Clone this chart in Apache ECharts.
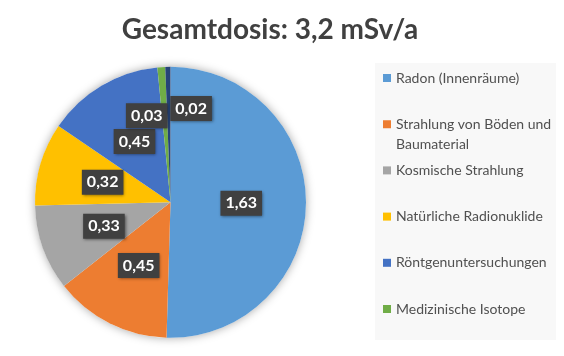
<!DOCTYPE html>
<html><head><meta charset="utf-8">
<script src="https://cdn.jsdelivr.net/npm/echarts@6/dist/echarts.min.js"></script>
<style>html,body{margin:0;padding:0;background:#fff}#c{width:564px;height:356px}</style>
</head><body><div id="c"></div>
<script>
const titleText = 'Gesamtdosis: 3,2 mSv/a';
const categories = ['Radon (Innenräume)', 'Strahlung von Böden und Baumaterial', 'Kosmische Strahlung', 'Natürliche Radionuklide', 'Röntgenuntersuchungen', 'Medizinische Isotope', 'Sonstige'];
const values = [1.63, 0.45, 0.33, 0.32, 0.45, 0.03, 0.02];
const legendNames = ['Radon (Innenräume)', 'Strahlung von Böden und\nBaumaterial', 'Kosmische Strahlung', 'Natürliche Radionuklide', 'Röntgenuntersuchungen', 'Medizinische Isotope'];
const colors = ['#5B9BD5', '#ED7D31', '#A5A5A5', '#FFC000', '#4472C4', '#70AD47', '#264478'];

const FONT = 'Lato';
const labelOffsets = {5: [-19, -16], 6: [22, -23]};
const total = values.reduce((a, b) => a + b, 0);

const data = categories.map((n, i) => {
  const d = {name: n, value: values[i], itemStyle: {color: colors[i]}};
  if (labelOffsets[i]) d.label = {offset: labelOffsets[i]};
  return d;
});

const legends = categories.slice(0, 6).map((n, i) => {
  const twoLine = legendNames[i].indexOf('\n') >= 0;
  return {
    data: [{name: n, icon: twoLine ? 'path://M0,0H8V8H0Z M0,27.9H0.01V28H0Z' : 'rect'}],
    formatter: () => legendNames[i],
    left: 383,
    top: 68 + i * 46.2,
    padding: 0,
    itemWidth: 8,
    itemHeight: twoLine ? 28 : 8,
    itemGap: 5,
    selectedMode: false,
    textStyle: {fontFamily: FONT, fontSize: 14, color: '#505050', lineHeight: 20}
  };
});

const chart = echarts.init(document.getElementById('c'), null, {renderer: 'canvas'});
chart.setOption({
  animation: false,
  backgroundColor: '#ffffff',
  title: {text: titleText, left: 265, top: 11, textAlign: 'center',
    textStyle: {fontFamily: FONT, fontWeight: 'bold', fontSize: 28, color: '#404040'}},
  graphic: [{type: 'rect', shape: {x: 375, y: 63, width: 181, height: 277}, style: {fill: '#F8F8F8'}, z: -10}],
  legend: legends,
  series: [
    {type: 'pie', center: [170.5, 202.3], radius: 135.5, silent: true, z: 1,
      label: {show: false}, labelLine: {show: false},
      data: [{name: 'bg', value: total, itemStyle: {color: '#ffffff', shadowBlur: 10, shadowColor: 'rgba(0,0,0,0.35)'}}]},
    {type: 'pie', center: [170.5, 202.3], radius: 135.5, startAngle: 90, clockwise: true, z: 2,
      avoidLabelOverlap: false,
      labelLayout: {hideOverlap: false},
      itemStyle: {borderWidth: 0},
      label: {show: true, position: 'inside', fontFamily: FONT, fontWeight: 'bold', fontSize: 16,
        color: '#ffffff', backgroundColor: '#404040', padding: [5, 5, 4, 5],
        shadowBlur: 3, shadowColor: 'rgba(0,0,0,0.5)', shadowOffsetX: 1, shadowOffsetY: 1,
        formatter: p => p.value.toFixed(2).replace('.', ',')},
      labelLine: {show: false},
      data: data}
  ]
});
</script></body></html>
